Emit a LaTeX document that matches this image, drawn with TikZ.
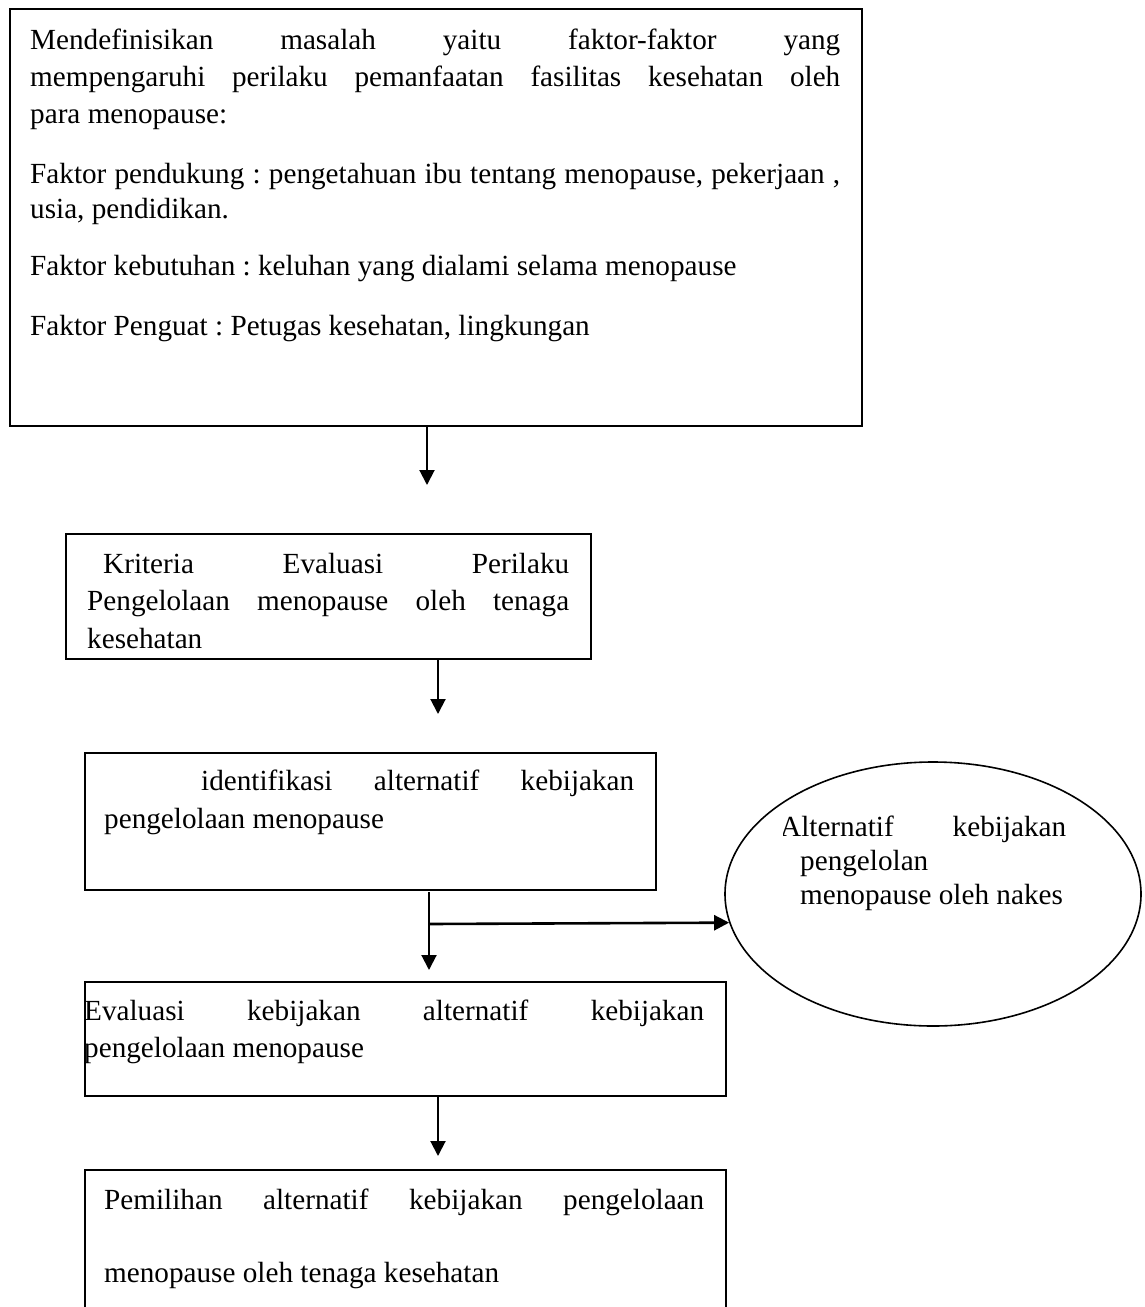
\documentclass[tikz,border=0pt]{standalone}
\usepackage{fontspec}
\setmainfont{Liberation Serif}
\usetikzlibrary{arrows.meta,shapes.geometric}
\tolerance=10000
\hyphenpenalty=10000
\exhyphenpenalty=10000
\hbadness=10000
\frenchspacing
\begin{document}
\begin{tikzpicture}[x=1pt,y=-1pt,
  box/.style={draw, line width=2pt, rectangle, inner sep=0pt, anchor=north west},
  txt/.style={anchor=base west, inner sep=0pt, align=justify, font=\fontsize{29.2}{37}\selectfont\frenchspacing},
  txtb/.style={anchor=base west, inner sep=0pt, font=\fontsize{29.2}{35}\selectfont\frenchspacing},
  arr/.style={line width=2pt, -{Triangle[length=15pt,width=15pt]}}]
\useasboundingbox (0,0) rectangle (1144,1307);
\clip (0,0) rectangle (1144,1307);
% boxes
\node[box, minimum width=852pt, minimum height=417pt] (top) at (9,8) {};
\node[box, minimum width=525pt, minimum height=125pt] (kri) at (65,533) {};
\node[box, minimum width=571pt, minimum height=137pt] (ide) at (84,752) {};
\node[box, minimum width=641pt, minimum height=114pt] (eva) at (84,981) {};
\node[box, minimum width=641pt, minimum height=170pt] (pem) at (84,1169) {};
\node[draw, ellipse, line width=1.6pt, inner sep=0pt, minimum width=416pt, minimum height=264pt] (alt) at (933,894) {};
% texts
\node[txt, text width=810pt] (t1) at (30,49) {Mendefinisikan masalah yaitu faktor-faktor yang\linebreak mempengaruhi perilaku pemanfaatan fasilitas kesehatan oleh\linebreak para menopause:};
\node[txtb, align=justify, text width=810pt] (t2) at (30,183) {Faktor pendukung : pengetahuan ibu tentang menopause, pekerjaan ,\linebreak usia, pendidikan.};
\node[txtb] (t3) at (30,275) {Faktor kebutuhan : keluhan yang dialami selama menopause};
\node[txtb] (t4) at (30,335) {Faktor Penguat : Petugas kesehatan, lingkungan};
\node[txt, text width=482pt, font=\fontsize{29.2}{37.5}\selectfont] (kt) at (87,573) {\hspace*{16pt}Kriteria Evaluasi Perilaku\linebreak Pengelolaan menopause oleh tenaga\linebreak kesehatan};
\node[txt, text width=530pt, font=\fontsize{29.2}{38}\selectfont] (it) at (104,790) {\hspace*{97pt}identifikasi alternatif kebijakan\linebreak pengelolaan menopause};
\begin{scope}
\clip (783,780) rectangle (1100,930);
\node[txt, text width=286pt, font=\fontsize{29.2}{34}\selectfont] (at) at (780,836) {Alternatif kebijakan\linebreak \hspace*{20pt}pengelolan\newline \hspace*{20pt}menopause oleh nakes};
\end{scope}
\node[txt, text width=620pt] (et) at (84,1020) {Evaluasi kebijakan alternatif kebijakan\linebreak pengelolaan menopause};
\node[txt, text width=600pt, font=\fontsize{29.2}{73}\selectfont] (pt) at (104,1209) {Pemilihan alternatif kebijakan pengelolaan\linebreak menopause oleh tenaga kesehatan};
% connectors
\coordinate (a1e) at (427,485);
\coordinate (a2e) at (438,714);
\coordinate (a3s) at (429,892);
\coordinate (a3e) at (429,970);
\coordinate (br) at (429,924);
\coordinate (a4e) at (438,1156);
\draw[arr] (top.south -| a1e) -- (a1e);
\draw[arr] (kri.south -| a2e) -- (a2e);
\draw[arr] (a3s) -- (a3e);
\draw[arr, line width=2.6pt] (br) -- (alt.188);
\draw[arr] (eva.south -| a4e) -- (a4e);
\end{tikzpicture}
\end{document}
